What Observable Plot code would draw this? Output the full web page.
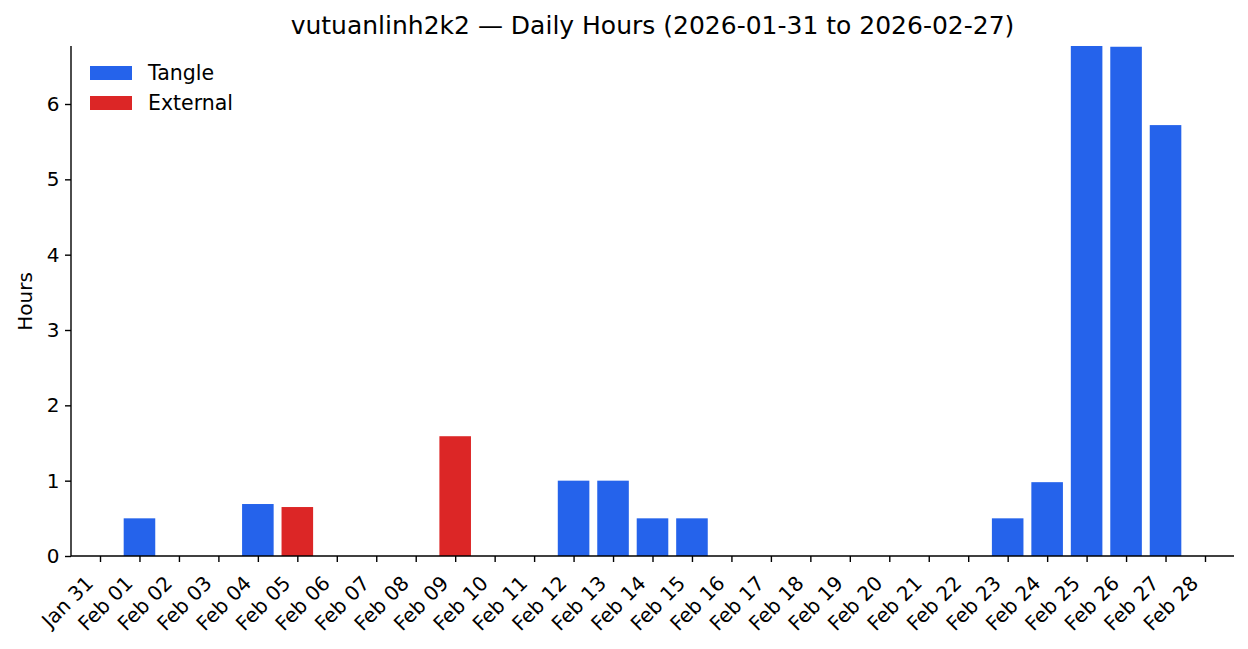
<!DOCTYPE html>
<html>
<head>
<meta charset="utf-8">
<script src="https://cdn.jsdelivr.net/npm/d3@7"></script>
<script src="https://cdn.jsdelivr.net/npm/@observablehq/plot@0.6"></script>
<style>
  html, body { margin: 0; padding: 0; background: #fff; }
  #wrap { position: relative; width: 1248px; height: 649px; font-family: "DejaVu Sans", sans-serif; color: #000; }
  #title { position: absolute; left: 71px; width: 1163px; top: 0; height: 40px; line-height: 52px; text-align: center; font-size: 25px; white-space: nowrap; }
  #chart { position: absolute; left: 0; top: 40px; }
  .legend { position: absolute; left: 90px; font-size: 20.5px; }
  .legend .row { position: absolute; left: 0; height: 20px; white-space: nowrap; }
  .legend .sw { position: absolute; left: 0; width: 42px; height: 14px; }
  .legend .lb { position: absolute; left: 58px; top: -5px; line-height: 24px; }
</style>
</head>
<body>
<div id="wrap">
  <div id="title">vutuanlinh2k2 — Daily Hours (2026-01-31 to 2026-02-27)</div>
  <div id="chart"></div>
  <div class="legend" id="legend"></div>
</div>
<script>
const dates = ["Jan 31","Feb 01","Feb 02","Feb 03","Feb 04","Feb 05","Feb 06","Feb 07","Feb 08","Feb 09",
  "Feb 10","Feb 11","Feb 12","Feb 13","Feb 14","Feb 15","Feb 16","Feb 17","Feb 18","Feb 19",
  "Feb 20","Feb 21","Feb 22","Feb 23","Feb 24","Feb 25","Feb 26","Feb 27","Feb 28"];
const tangleHours = [0,0.5,0,0,0.69,0,0,0,0,0,
  0,0,1.0,1.0,0.5,0.5,0,0,0,0,
  0,0,0,0.5,0.98,6.77,6.76,5.72,0];
const externalHours = [0,0,0,0,0,0.65,0,0,0,1.59,
  0,0,0,0,0,0,0,0,0,0,
  0,0,0,0,0,0,0,0,0];
const seriesNames = ["Tangle","External"];
const seriesColors = ["#2563eb","#dc2626"];
const yTicks = [0,1,2,3,4,5,6];
const yMax = 6.77;

const rows = [];
dates.forEach((d, i) => {
  if (tangleHours[i] > 0) rows.push({date: d, hours: tangleHours[i], type: "Tangle"});
  if (externalHours[i] > 0) rows.push({date: d, hours: externalHours[i], type: "External"});
});

const W = 1248, H = 609;
const mL = 71, mR = 14, mT = 6, mB = 93;

const spines = (index, scales, values, dimensions) => {
  const g = d3.create("svg:g");
  const {width, height, marginLeft, marginRight, marginTop, marginBottom} = dimensions;
  g.append("line")
    .attr("x1", marginLeft).attr("x2", marginLeft)
    .attr("y1", marginTop).attr("y2", height - marginBottom)
    .attr("stroke", "#000").attr("stroke-width", 1.4);
  g.append("line")
    .attr("x1", marginLeft).attr("x2", width - marginRight)
    .attr("y1", height - marginBottom).attr("y2", height - marginBottom)
    .attr("stroke", "#000").attr("stroke-width", 1.4);
  return g.node();
};

const chart = Plot.plot({
  width: W, height: H,
  marginLeft: mL, marginRight: mR, marginTop: mT, marginBottom: mB,
  style: {fontFamily: "DejaVu Sans, sans-serif", fontSize: "20px", color: "#000", background: "#fff", overflow: "visible"},
  x: {domain: dates, paddingInner: 0.2, paddingOuter: 0.335, align: 0.5, round: false},
  y: {domain: [0, yMax]},
  color: {domain: seriesNames, range: seriesColors},
  marks: [
    Plot.barY(rows, {x: "date", y: "hours", fill: "type"}),
    Plot.axisY({ticks: yTicks, tickFormat: d3.format("d"), tickSize: 6, tickPadding: 6, strokeWidth: 1.4, label: null, fontSize: 20}),
    Plot.axisX({tickSize: 6, tickPadding: 4, tickRotate: -45, strokeWidth: 1.4, label: null, fontSize: 20, textStroke: null}),
    spines,
    Plot.text(["Hours"], {frameAnchor: "left", textAnchor: "middle", dx: -46, rotate: -90, fontSize: 20})
  ]
});
document.getElementById("chart").appendChild(chart);

// shift rotated x tick labels (matplotlib-style right/top alignment)
const xLabels = chart.querySelector("g[aria-label='x-axis tick label']");
if (xLabels) {
  const old = xLabels.getAttribute("transform") || "";
  xLabels.setAttribute("transform", "translate(-10.5,13.5) " + old);
}

const legend = document.getElementById("legend");
legend.style.top = "40px";
const rowTops = [26, 56];
seriesNames.forEach((name, i) => {
  const row = document.createElement("div");
  row.className = "row";
  row.style.top = rowTops[i] + "px";
  const sw = document.createElement("div");
  sw.className = "sw";
  sw.style.background = seriesColors[i];
  const lb = document.createElement("div");
  lb.className = "lb";
  lb.textContent = name;
  row.appendChild(sw);
  row.appendChild(lb);
  legend.appendChild(row);
});
</script>
</body>
</html>
